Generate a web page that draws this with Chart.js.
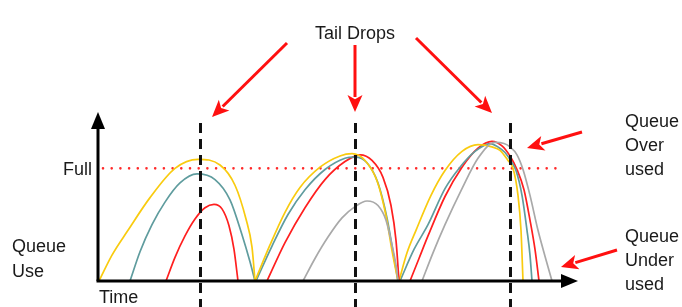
<!DOCTYPE html>
<html>
<head>
<meta charset="utf-8">
<script src="https://cdn.jsdelivr.net/npm/chart.js@4.4.1/dist/chart.umd.min.js"></script>
<style>
  html, body { margin: 0; padding: 0; background: #fff; }
  #wrap { width: 682px; height: 307px; position: relative; }
</style>
</head>
<body>
<div id="wrap"><canvas id="c" width="682" height="307"></canvas></div>
<script>
// ---- Data (time units on x, queue use in % of "Full" on y) ----
const timeRange = [0, 480];
const queueRange = [0, 150];
const fullLevel = 100;
const tailDropTimes = [102, 257, 412];

// cycle 1
const yellow1 = [[1,0],[14,23],[30,45],[52,74],[77,100],[100,108],[122,103],[137,85],[148,55],[154,30],[157,0]];
const teal1   = [[32,0],[42,26],[54,50],[67,70],[82,87],[99,95],[117,90],[132,72],[144,41],[152,17],[157,0]];
const red1    = [[68,0],[77,21],[87,40],[97,55],[107,65],[116,68],[124,64],[131,49],[136,28],[140,0]];
// cycle 2
const yellow2 = [[157,0],[172,32],[187,61],[202,83],[222,101],[242,111],[254,113],[267,107],[279,89],[288,58],[294,27],[300,0]];
const teal2   = [[158,0],[174,31],[190,59],[207,81],[227,99],[247,109],[257,110],[269,105],[280,87],[289,56],[295,26],[300,0]];
const red2    = [[169,0],[187,34],[207,65],[227,90],[247,106],[262,112],[274,107],[285,92],[293,67],[298,36],[301,0]];
const gray2   = [[205,0],[217,20],[230,39],[244,56],[257,66],[269,71],[280,67],[288,54],[294,32],[298,14],[300,0]];
// cycle 3
const yellow3 = [[301,0],[309,25],[318,45],[333,76],[347,98],[364,115],[380,121],[394,119],[402,116],[410,107],[415,100],[420,76],[423,45],[425,0]];
const teal3   = [[302,0],[316,28],[330,50],[347,82],[362,101],[377,115],[392,122],[400,119],[407,114],[414,105],[418,98],[424,76],[429,45],[432,23],[434,0]];
const red3    = [[312,0],[321,20],[330,40],[347,75],[364,101],[380,118],[394,124],[404,120],[412,111],[419,99],[426,81],[432,54],[437,28],[441,0]];
const gray3   = [[324,0],[335,25],[347,50],[364,82],[380,109],[397,123],[406,122],[412,119],[419,112],[425,99],[432,76],[440,45],[447,22],[454,0]];

const COLORS = { yellow: '#f9cb0f', teal: '#5f9c9e', red: '#ff1f1f', gray: '#a9a9a9' };

const curves = [
  [yellow1, 'yellow'], [teal1, 'teal'], [red1, 'red'],
  [gray2, 'gray'], [yellow2, 'yellow'], [teal2, 'teal'], [red2, 'red'],
  [gray3, 'gray'], [yellow3, 'yellow'], [teal3, 'teal'], [red3, 'red']
];

function toPts(arr) { return arr.map(p => ({ x: p[0], y: p[1] })); }

function arrow(ctx, x1, y1, x2, y2, color, lw, hl, hw) {
  const ang = Math.atan2(y2 - y1, x2 - x1);
  const bx = x2 - hl * Math.cos(ang), by = y2 - hl * Math.sin(ang);
  ctx.save();
  ctx.strokeStyle = color; ctx.fillStyle = color; ctx.lineWidth = lw; ctx.lineCap = 'butt';
  ctx.beginPath(); ctx.moveTo(x1, y1); ctx.lineTo(bx + 2 * Math.cos(ang), by + 2 * Math.sin(ang)); ctx.stroke();
  const px = -Math.sin(ang) * hw / 2, py = Math.cos(ang) * hw / 2;
  ctx.beginPath();
  ctx.moveTo(x2, y2);
  ctx.lineTo(bx + px, by + py);
  ctx.lineTo(x2 - hl * 0.75 * Math.cos(ang), y2 - hl * 0.75 * Math.sin(ang));
  ctx.lineTo(bx - px, by - py);
  ctx.closePath(); ctx.fill();
  ctx.restore();
}

const decor = {
  id: 'decor',
  beforeDatasetsDraw(chart) {
    const { ctx, scales: { x, y } } = chart;
    // Full level dotted line
    ctx.save();
    ctx.strokeStyle = '#ff2a2a';
    ctx.lineWidth = 2.6;
    ctx.lineCap = 'round';
    ctx.setLineDash([0, 8.7]);
    const fy = y.getPixelForValue(fullLevel);
    ctx.beginPath();
    ctx.moveTo(x.getPixelForValue(5), fy);
    ctx.lineTo(x.getPixelForValue(462), fy);
    ctx.stroke();
    ctx.restore();
  },
  afterDatasetsDraw(chart) {
    const { ctx, scales: { x, y } } = chart;
    const x0 = x.getPixelForValue(0), y0 = y.getPixelForValue(0);
    const xEnd = x.getPixelForValue(timeRange[1]), yTop = y.getPixelForValue(queueRange[1]);
    // tail-drop dashed lines
    ctx.save();
    ctx.strokeStyle = '#111';
    ctx.lineWidth = 3;
    ctx.setLineDash([10, 6]);
    tailDropTimes.forEach(t => {
      const px = Math.round(x.getPixelForValue(t)) + 0.5;
      ctx.beginPath(); ctx.moveTo(px, yTop + 11); ctx.lineTo(px, 310); ctx.stroke();
    });
    ctx.restore();
    // axes
    ctx.save();
    ctx.strokeStyle = '#000'; ctx.fillStyle = '#000'; ctx.lineWidth = 3;
    ctx.beginPath(); ctx.moveTo(x0, y0); ctx.lineTo(x0, yTop + 14); ctx.stroke();
    ctx.beginPath(); ctx.moveTo(x0 - 1.5, y0); ctx.lineTo(xEnd - 14, y0); ctx.stroke();
    ctx.beginPath(); ctx.moveTo(x0, yTop); ctx.lineTo(x0 - 7, yTop + 17); ctx.lineTo(x0 + 7, yTop + 17); ctx.closePath(); ctx.fill();
    ctx.beginPath(); ctx.moveTo(xEnd, y0); ctx.lineTo(xEnd - 17, y0 - 7); ctx.lineTo(xEnd - 17, y0 + 7); ctx.closePath(); ctx.fill();
    ctx.restore();
    // texts
    ctx.save();
    ctx.fillStyle = '#1a1a1a';
    ctx.font = '18px "Liberation Sans", Arial, sans-serif';
    ctx.textBaseline = 'alphabetic';
    ctx.textAlign = 'right';
    ctx.fillText('Full', x0 - 6, y.getPixelForValue(fullLevel) + 7);
    ctx.textAlign = 'left';
    ctx.fillText('Queue', 12, 252);
    ctx.fillText('Use', 12, 277);
    ctx.fillText('Time', x0 + 1, 303);
    ctx.textAlign = 'center';
    ctx.fillText('Tail Drops', 355, 39);
    ctx.textAlign = 'left';
    ctx.fillText('Queue', 625, 127);
    ctx.fillText('Over', 625, 151);
    ctx.fillText('used', 625, 175);
    ctx.fillText('Queue', 625, 242);
    ctx.fillText('Under', 625, 266);
    ctx.fillText('used', 625, 290);
    ctx.restore();
    // red arrows
    const red = '#ff1010';
    const d = tailDropTimes.map(t => x.getPixelForValue(t));
    arrow(ctx, 287, 43, d[0] + 12, 117, red, 3, 17, 15);
    arrow(ctx, 355, 45, d[1], 112, red, 3, 17, 15);
    arrow(ctx, 416, 38, d[2] - 18, 113, red, 3, 17, 15);
    arrow(ctx, 582, 132, 527, 148, red, 3, 17, 15);
    arrow(ctx, 617, 250, 561, 267, red, 3, 17, 15);
  }
};

new Chart(document.getElementById('c'), {
  type: 'scatter',
  data: {
    datasets: curves.map(([pts, col]) => ({
      data: toPts(pts),
      showLine: true,
      borderColor: COLORS[col],
      backgroundColor: COLORS[col],
      borderWidth: 1.7,
      pointRadius: 0,
      pointHoverRadius: 0,
      cubicInterpolationMode: 'monotone',
      clip: false
    }))
  },
  options: {
    responsive: false,
    animation: false,
    devicePixelRatio: 1,
    layout: { padding: { left: 98, right: 104, top: 112, bottom: 26 } },
    plugins: { legend: { display: false }, tooltip: { enabled: false } },
    scales: {
      x: { type: 'linear', display: false, min: timeRange[0], max: timeRange[1] },
      y: { type: 'linear', display: false, min: queueRange[0], max: queueRange[1] }
    },
    events: []
  },
  plugins: [decor]
});
</script>
</body>
</html>
